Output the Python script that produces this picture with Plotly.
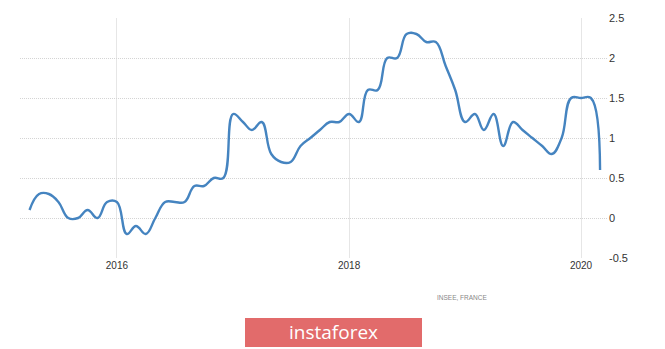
import plotly.graph_objects as go
import pandas as pd

months = pd.date_range("2015-04-01", "2020-03-01", freq="MS")
values = [
    0.1, 0.3, 0.3, 0.2, 0.0, 0.0, 0.1, 0.0, 0.2,          # 2015 Apr-Dec
    0.2, -0.2, -0.1, -0.2, 0.0, 0.2, 0.2, 0.2, 0.4, 0.4, 0.5, 0.5,  # 2016
    1.3, 1.2, 1.1, 1.2, 0.8, 0.7, 0.7, 0.9, 1.0, 1.1, 1.2, 1.2,     # 2017
    1.3, 1.2, 1.6, 1.6, 2.0, 2.0, 2.3, 2.3, 2.2, 2.2, 1.9, 1.6,     # 2018
    1.2, 1.3, 1.1, 1.3, 0.9, 1.2, 1.1, 1.0, 0.9, 0.8, 1.0, 1.5,     # 2019
    1.5, 1.5, 0.6,                                                   # 2020 Jan-Mar
]
xtick_vals = ["2016-01-01", "2018-01-01", "2020-01-01"]
xtick_text = ["2016", "2018", "2020"]
ytick_vals = [-0.5, 0, 0.5, 1, 1.5, 2, 2.5]
ytick_text = ["-0.5", "0", "0.5", "1", "1.5", "2", "2.5"]

FONT = "Liberation Sans Narrow, Arial Narrow, Liberation Sans, sans-serif"

fig = go.Figure()
fig.add_trace(go.Scatter(
    x=months, y=values, mode="lines",
    line=dict(color="#4584c0", width=2.4, shape="spline", smoothing=1.2),
    hoverinfo="skip", showlegend=False,
))

fig.update_layout(
    width=665, height=349,
    margin=dict(l=20, r=57, t=18, b=91),
    paper_bgcolor="white", plot_bgcolor="white",
    font=dict(family=FONT, color="#333333", size=11),
    xaxis=dict(
        range=["2015-03-02", "2020-03-26"],
        tickvals=xtick_vals, ticktext=xtick_text,
        showgrid=True, gridcolor="#e6e6e6", gridwidth=1,
        zeroline=False, showline=False, ticks="",
        tickfont=dict(size=10, color="#333333", family=FONT),
    ),
    yaxis=dict(
        range=[-0.5, 2.5], side="right",
        tickvals=ytick_vals, ticktext=ytick_text,
        showgrid=True, gridcolor="#d4d4d4", gridwidth=1, griddash="1px,1px",
        zeroline=False, showline=False, ticks="",
        tickfont=dict(size=11, color="#333333", family=FONT),
    ),
)

fig.add_annotation(
    xref="paper", yref="paper", x=(490 - 20) / 588, y=-(297 - 258) / 240,
    xanchor="right", yanchor="middle", text="INSEE, FRANCE", showarrow=False,
    font=dict(size=6.5, color="#888888", family=FONT),
)

fig.add_shape(
    type="rect", xref="paper", yref="paper",
    x0=(245 - 20) / 588, x1=(422 - 20) / 588,
    y0=-(347 - 258) / 240, y1=-(318 - 258) / 240,
    fillcolor="#e26b6b", line=dict(width=0), layer="above",
)
fig.add_annotation(
    xref="paper", yref="paper", x=(333 - 20) / 588, y=-(332 - 258) / 240,
    xanchor="center", yanchor="middle", text="instaforex", showarrow=False,
    font=dict(size=19, color="white", family="Open Sans, sans-serif"),
)

fig.write_html("out.html")
